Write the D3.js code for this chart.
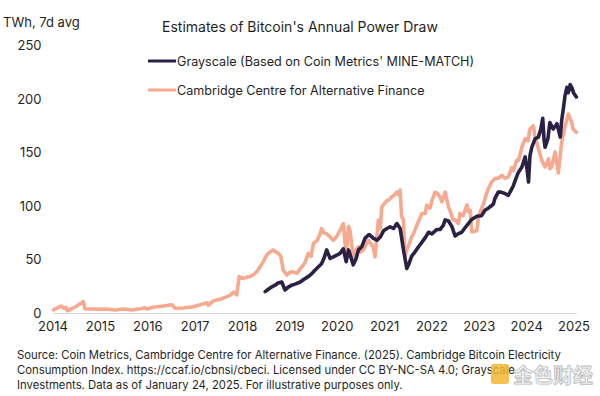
<!DOCTYPE html>
<html>
<head>
<meta charset="utf-8">
<script src="https://cdn.jsdelivr.net/npm/d3@7"></script>
<style>
  html, body { margin: 0; padding: 0; background: #fff; }
  svg { display: block; font-family: Inter, "Noto Sans", sans-serif; }
</style>
</head>
<body>
<svg id="chart" width="600" height="396"></svg>
<script>
// ---- data ----
const yTicks = [0, 50, 100, 150, 200, 250];
const xTicks = [2014, 2015, 2016, 2017, 2018, 2019, 2020, 2021, 2022, 2023, 2024, 2025];

const seriesNames = ["Grayscale (Based on Coin Metrics' MINE-MATCH)", "Cambridge Centre for Alternative Finance"];

const camYears = [
  2014.02, 2014.12, 2014.19, 2014.24, 2014.29, 2014.31, 2014.41, 2014.51, 2014.62, 2014.65, 2014.69, 2014.86,
  2015.00, 2015.14, 2015.32, 2015.50, 2015.67, 2015.85, 2015.95, 2015.99, 2016.13, 2016.34, 2016.52, 2016.59,
  2016.76, 2016.97, 2017.18, 2017.26, 2017.29, 2017.40, 2017.54, 2017.64, 2017.75, 2017.82, 2017.89, 2017.94,
  2018.03, 2018.13, 2018.17, 2018.25, 2018.32, 2018.38, 2018.45, 2018.52, 2018.59, 2018.66, 2018.72, 2018.77,
  2018.82, 2018.87, 2018.95, 2019.01, 2019.08, 2019.16, 2019.26, 2019.33, 2019.40, 2019.46, 2019.51, 2019.59,
  2019.65, 2019.68, 2019.73, 2019.79, 2019.86, 2019.93, 2019.99, 2020.03, 2020.09, 2020.14, 2020.20, 2020.25,
  2020.28, 2020.35, 2020.41, 2020.46, 2020.51, 2020.56, 2020.62, 2020.67, 2020.73, 2020.77, 2020.81, 2020.88,
  2020.92, 2020.95, 2021.00, 2021.06, 2021.11, 2021.16, 2021.21, 2021.27, 2021.30, 2021.34, 2021.37, 2021.41,
  2021.44, 2021.48, 2021.51, 2021.58, 2021.62, 2021.69, 2021.76, 2021.80, 2021.87, 2021.90, 2021.97, 2022.01,
  2022.08, 2022.12, 2022.18, 2022.22, 2022.29, 2022.36, 2022.39, 2022.46, 2022.50, 2022.57, 2022.60, 2022.67,
  2022.75, 2022.78, 2022.82, 2022.85, 2022.89, 2022.96, 2022.99, 2023.06, 2023.10, 2023.15, 2023.20, 2023.27,
  2023.34, 2023.41, 2023.49, 2023.55, 2023.62, 2023.70, 2023.73, 2023.80, 2023.84, 2023.91, 2023.98, 2024.04,
  2024.08, 2024.15, 2024.19, 2024.26, 2024.33, 2024.40, 2024.47, 2024.50, 2024.54, 2024.61, 2024.68, 2024.75,
  2024.82, 2024.89, 2024.96, 2024.99, 2025.06
];
const camValues = [
  3, 5.3, 6.5, 4.4, 5.3, 2.1, 4, 6.5, 9.6, 10.5, 3.7, 3.7,
  3.5, 3.7, 2.8, 3.7, 2.8, 4, 5, 3.7, 5.3, 6.5, 7.7, 4.4,
  4.7, 5.9, 8.4, 9.6, 7.2, 11.5, 12.8, 14.6, 16.5, 19.6, 17, 33.9,
  32.4, 33.9, 34, 36, 39, 43, 48, 54, 57, 59, 57, 55.7,
  53, 40, 35.5, 38, 38.5, 37, 43, 47, 55.7, 53, 65, 68,
  74, 79, 75, 74, 71, 68, 71, 74, 79, 83.6, 54, 81,
  77, 52.5, 59, 62, 57, 59, 64, 68, 64, 62, 52.5, 87,
  79, 99, 102, 105, 106, 108.5, 110, 113, 111, 115, 90, 87,
  52.5, 59, 62, 71, 74, 82, 89, 93, 93, 101, 98, 105,
  113, 112, 108.5, 104, 113, 99, 96, 87, 87, 83.6, 93, 91,
  101, 94.5, 96, 76, 76, 77, 90, 98, 102, 110, 116, 122.5,
  125.6, 126, 128.7, 126, 127, 136, 133, 142.7, 142.7, 155, 163, 161,
  172, 175, 164.5, 153.6, 142.7, 136.5, 144, 135, 136.5, 150.5, 131, 160,
  174, 186, 178.5, 172, 169
];

const gsYears = [
  2018.49, 2018.55, 2018.61, 2018.70, 2018.76, 2018.84, 2018.91, 2018.97, 2019.05, 2019.12, 2019.23, 2019.31,
  2019.40, 2019.48, 2019.54, 2019.61, 2019.68, 2019.73, 2019.79, 2019.86, 2019.93, 2020.00, 2020.07, 2020.14,
  2020.20, 2020.25, 2020.28, 2020.35, 2020.41, 2020.46, 2020.53, 2020.60, 2020.67, 2020.70, 2020.77, 2020.85,
  2020.92, 2020.99, 2021.06, 2021.13, 2021.20, 2021.27, 2021.34, 2021.41, 2021.48, 2021.53, 2021.58, 2021.65,
  2021.72, 2021.78, 2021.87, 2021.94, 2022.01, 2022.11, 2022.18, 2022.25, 2022.29, 2022.36, 2022.43, 2022.50,
  2022.56, 2022.64, 2022.75, 2022.85, 2022.96, 2023.06, 2023.13, 2023.20, 2023.26, 2023.31, 2023.34, 2023.41,
  2023.47, 2023.55, 2023.62, 2023.66, 2023.73, 2023.77, 2023.83, 2023.91, 2023.98, 2024.02, 2024.05, 2024.08,
  2024.12, 2024.19, 2024.26, 2024.31, 2024.35, 2024.38, 2024.40, 2024.46, 2024.50, 2024.57, 2024.65, 2024.72,
  2024.75, 2024.79, 2024.82, 2024.86, 2024.89, 2024.93, 2024.97, 2025.00, 2025.06
];
const gsValues = [
  20, 22, 24, 26, 28, 29, 21.5, 24, 26, 27, 29, 31.5,
  34, 37, 40, 43, 46, 51, 59, 51, 52.5, 54, 55.7, 60,
  48, 59, 55, 45, 51, 59, 62, 70, 73, 73, 70, 68,
  71, 77, 79, 80.5, 79, 83.6, 79, 59, 41.7, 46.5, 53, 57,
  61.5, 65, 70.5, 75.5, 74, 78, 78, 82, 87, 86, 81, 72,
  74, 75.5, 82, 87.5, 90.5, 91, 96, 98, 100, 102, 107, 113,
  113, 111.7, 110, 113, 119, 124, 131, 136.5, 146, 134, 122.5, 147,
  155, 163, 164.5, 172, 182, 161, 155, 163, 178, 172, 177, 164.5,
  180, 192.5, 203, 211, 206, 213.5, 210, 206, 202
];

const colors = ["#2b2145", "#f6a98e"];

// ---- chart ----
const svg = d3.select("#chart");

const x = d3.scaleLinear().domain([2014, 2025.065]).range([52.5, 576.6]);
const y = d3.scaleLinear().domain([0, 250]).range([313, 45.6]);

// x axis
const xAxis = svg.append("g")
  .attr("transform", `translate(0,${y(0)})`)
  .call(d3.axisBottom(x).tickValues(xTicks).tickFormat(d3.format("d")).tickSize(0).tickPadding(9));
xAxis.select(".domain").attr("stroke", "#d6d6d6").attr("stroke-width", 1.2);
xAxis.selectAll("text").attr("fill", "#1f1f1f").style("font-size", "13px")
  .style("font-family", "Inter, 'Noto Sans', sans-serif");

// y axis
const yAxis = svg.append("g")
  .attr("transform", `translate(${x(2014)},0)`)
  .call(d3.axisLeft(y).tickValues(yTicks).tickSize(0).tickPadding(11));
yAxis.select(".domain").remove();
yAxis.selectAll("text").attr("fill", "#1f1f1f").style("font-size", "13px")
  .style("font-family", "Inter, 'Noto Sans', sans-serif");

// lines
const line = d3.line().x(d => x(d[0])).y(d => y(d[1]));
const camData = camYears.map((t, i) => [t, camValues[i]]);
const gsData = gsYears.map((t, i) => [t, gsValues[i]]);

svg.append("path").datum(camData)
  .attr("d", line).attr("fill", "none")
  .attr("stroke", colors[1]).attr("stroke-width", 3.6)
  .attr("stroke-linejoin", "round").attr("stroke-linecap", "round");

svg.append("path").datum(gsData)
  .attr("d", line).attr("fill", "none")
  .attr("stroke", colors[0]).attr("stroke-width", 3.6)
  .attr("stroke-linejoin", "round").attr("stroke-linecap", "round");

// unit label & title
svg.append("text").attr("x", 3).attr("y", 27)
  .attr("fill", "#1f1f1f").style("font-size", "13px")
  .text("TWh, 7d avg");
svg.append("text").attr("x", 162).attr("y", 32)
  .attr("fill", "#1f1f1f").style("font-size", "14px")
  .text("Estimates of Bitcoin's Annual Power Draw");

// legend
const leg = svg.append("g");
[61, 90].forEach((ly, i) => {
  leg.append("line").attr("x1", 148).attr("x2", 176).attr("y1", ly).attr("y2", ly)
    .attr("stroke", colors[i]).attr("stroke-width", 3);
  leg.append("text").attr("x", 177).attr("y", ly + 4.5)
    .attr("fill", "#1f1f1f").style("font-size", "12.6px")
    .text(seriesNames[i]);
});

// footer
const foot = [
  "Source: Coin Metrics, Cambridge Centre for Alternative Finance. (2025). Cambridge Bitcoin Electricity",
  "Consumption Index. https://ccaf.io/cbnsi/cbeci. Licensed under CC BY-NC-SA 4.0; Grayscale",
  "Investments. Data as of January 24, 2025. For illustrative purposes only."
];
svg.append("g").selectAll("text").data(foot).join("text")
  .attr("x", 17).attr("y", (d, i) => 359 + i * 15)
  .attr("fill", "#1f1f1f").style("font-size", "11.3px")
  .text(d => d);

// watermark
const wm = svg.append("g").attr("opacity", 0.85);
wm.append("rect").attr("x", 491).attr("y", 364).attr("width", 18).attr("height", 20).attr("rx", 3)
  .attr("fill", "#f2b632");
wm.append("text").attr("x", 513).attr("y", 383)
  .attr("fill", "#f4f4f4").attr("stroke", "#b0b0b0").attr("stroke-width", 0.8)
  .style("font-size", "20px").style("font-family", "'Noto Sans CJK SC', sans-serif").style("font-weight", "bold")
  .text("金色财经");
</script>
</body>
</html>
